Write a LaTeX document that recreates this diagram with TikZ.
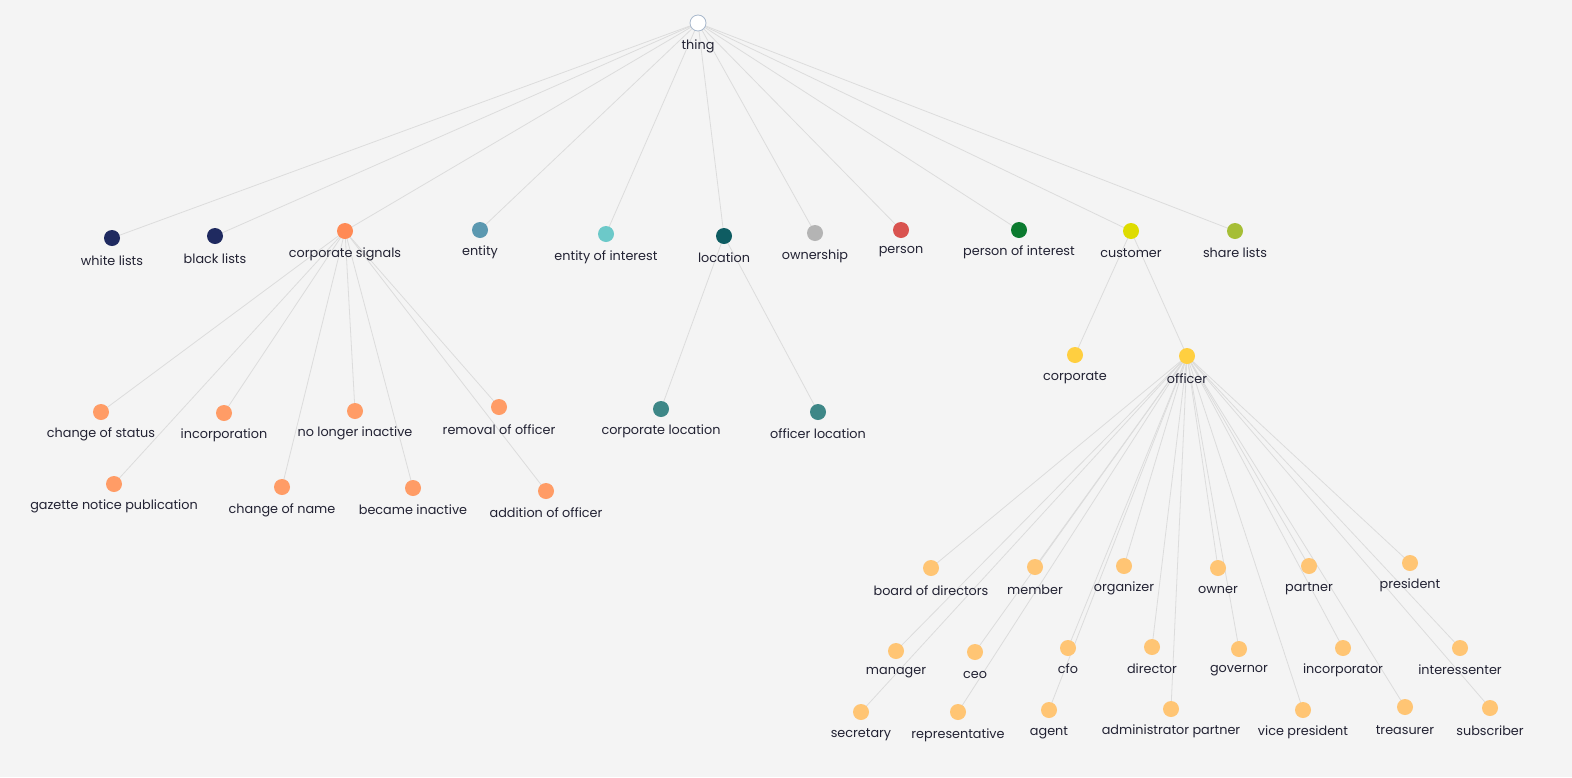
\documentclass[tikz,border=0pt]{standalone}
\usepackage{fontspec}
\setmainfont{Poppins}
\usetikzlibrary{backgrounds}
\definecolor{bgc}{HTML}{F4F4F4}
\definecolor{edgec}{HTML}{DCDCDC}
\definecolor{txtc}{HTML}{222233}
\definecolor{navy}{HTML}{1F2A60}
\definecolor{corpsig}{HTML}{FF8A55}
\definecolor{sigchild}{HTML}{FF9C66}
\definecolor{entityc}{HTML}{5B98B0}
\definecolor{entintc}{HTML}{6CC9C9}
\definecolor{locc}{HTML}{0E5C62}
\definecolor{ownc}{HTML}{B4B4B4}
\definecolor{personc}{HTML}{D9534F}
\definecolor{poic}{HTML}{0B7A2F}
\definecolor{custc}{HTML}{DEDC00}
\definecolor{sharec}{HTML}{A6BE36}
\definecolor{custchild}{HTML}{FFCF40}
\definecolor{offchild}{HTML}{FFC574}
\definecolor{locchild}{HTML}{3E8787}
\definecolor{thingborder}{HTML}{A8B8CC}
\tikzset{
  dot/.style={circle, minimum size=16pt, inner sep=0pt},
  lbl/.style={inner sep=0pt, text=txtc, font=\fontsize{12.8}{14}\selectfont},
  edge/.style={draw=edgec, line width=0.8pt},
}
% \onto{name}{x}{y}{color}{label}{label y}
\newcommand{\onto}[6]{%
  \node[dot, fill=#4] (#1) at (#2,-#3) {};
  \node[lbl] (#1-l) at (#2,-#6) {#5};
}
\begin{document}
\begin{tikzpicture}[x=1pt,y=1pt]
\useasboundingbox (0,0) rectangle (1572,-777);
% root
\node[dot, fill=white, draw=thingborder, line width=0.8pt] (thing) at (698,-23) {};
\node[lbl] (thing-l) at (698,-46) {thing};
% level 1
\onto{wl}{112}{238}{navy}{white lists}{261}
\onto{bl}{215}{236}{navy}{black lists}{259}
\onto{cs}{345}{231}{corpsig}{corporate signals}{254}
\onto{ent}{480}{230}{entityc}{entity}{252}
\onto{eoi}{606}{234}{entintc}{entity of interest}{257}
\onto{loc}{724}{236}{locc}{location}{258}
\onto{own}{815}{233}{ownc}{ownership}{256}
\onto{per}{901}{230}{personc}{person}{252}
\onto{poi}{1019}{230}{poic}{person of interest}{252}
\onto{cus}{1131}{231}{custc}{customer}{253}
\onto{sl}{1235}{231}{sharec}{share lists}{253}
% corporate signals children
\onto{cos}{101}{412}{sigchild}{change of status}{434}
\onto{inc}{224}{413}{sigchild}{incorporation}{435}
\onto{nli}{355}{411}{sigchild}{no longer inactive}{433}
\onto{roo}{499}{407}{sigchild}{removal of officer}{430}
\onto{gnp}{114}{484}{sigchild}{gazette notice publication}{506}
\onto{con}{282}{487}{sigchild}{change of name}{510}
\onto{bi}{413}{488}{sigchild}{became inactive}{510}
\onto{aoo}{546}{491}{sigchild}{addition of officer}{513}
% location children
\onto{cl}{661}{409}{locchild}{corporate location}{431}
\onto{ol}{818}{412}{locchild}{officer location}{434}
% customer children
\onto{corp}{1075}{355}{custchild}{corporate}{378}
\onto{off}{1187}{356}{custchild}{officer}{379}
% officer children
\onto{bod}{931}{568}{offchild}{board of directors}{591}
\onto{mem}{1035}{567}{offchild}{member}{590}
\onto{org}{1124}{566}{offchild}{organizer}{588}
\onto{own2}{1218}{568}{offchild}{owner}{590}
\onto{par}{1309}{566}{offchild}{partner}{589}
\onto{pre}{1410}{563}{offchild}{president}{585}
\onto{man}{896}{651}{offchild}{manager}{673}
\onto{ceo}{975}{652}{offchild}{ceo}{675}
\onto{cfo}{1068}{648}{offchild}{cfo}{669}
\onto{dir}{1152}{647}{offchild}{director}{669}
\onto{gov}{1239}{649}{offchild}{governor}{671}
\onto{incp}{1343}{648}{offchild}{incorporator}{670}
\onto{ints}{1460}{648}{offchild}{interessenter}{670}
\onto{sec}{861}{712}{offchild}{secretary}{735}
\onto{rep}{958}{712}{offchild}{representative}{735}
\onto{age}{1049}{710}{offchild}{agent}{733}
\onto{adp}{1171}{709}{offchild}{administrator partner}{731}
\onto{vp}{1303}{710}{offchild}{vice president}{732}
\onto{tre}{1405}{707}{offchild}{treasurer}{730}
\onto{sub}{1490}{708}{offchild}{subscriber}{731}
\begin{scope}[on background layer]
\fill[bgc] (0,0) rectangle (1572,-777);
\foreach \n in {wl,bl,cs,ent,eoi,loc,own,per,poi,cus,sl}
  \draw[edge] (thing.center) -- (\n.center);
\foreach \n in {cos,inc,nli,roo,gnp,con,bi,aoo}
  \draw[edge] (cs.center) -- (\n.center);
\foreach \n in {cl,ol}
  \draw[edge] (loc.center) -- (\n.center);
\foreach \n in {corp,off}
  \draw[edge] (cus.center) -- (\n.center);
\foreach \n in {bod,mem,org,own2,par,pre,man,ceo,cfo,dir,gov,incp,ints,sec,rep,age,adp,vp,tre,sub}
  \draw[edge] (off.center) -- (\n.center);
\end{scope}
\end{tikzpicture}
\end{document}
